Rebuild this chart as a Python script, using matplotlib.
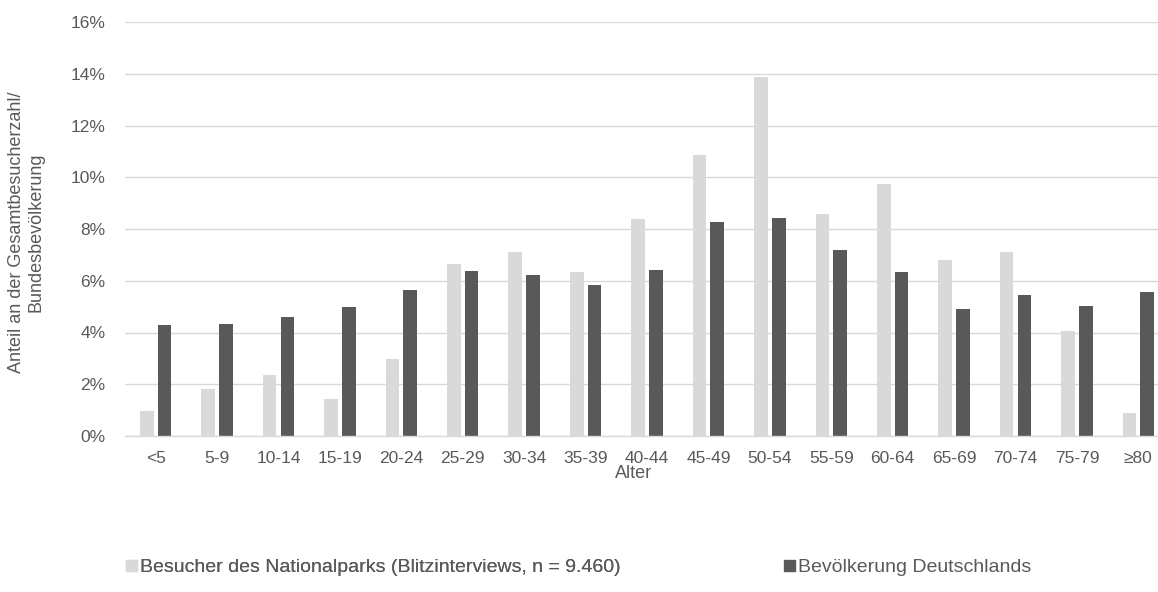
import numpy as np
import matplotlib as mpl
mpl.use('Agg')
from matplotlib import pyplot as plt
from matplotlib.patches import Patch

mpl.rcParams['font.family'] = ['Liberation Sans', 'DejaVu Sans']

age_groups = ['<5', '5-9', '10-14', '15-19', '20-24', '25-29', '30-34', '35-39', '40-44',
              '45-49', '50-54', '55-59', '60-64', '65-69', '70-74', '75-79', '≥80']
visitors = [0.95, 1.80, 2.35, 1.44, 2.99, 6.65, 7.11, 6.33, 8.38,
            10.85, 13.86, 8.58, 9.74, 6.80, 7.12, 4.07, 0.88]
population = [4.30, 4.32, 4.58, 5.00, 5.65, 6.37, 6.23, 5.85, 6.40,
              8.28, 8.44, 7.18, 6.32, 4.91, 5.43, 5.04, 5.57]
visitors_label = 'Besucher des Nationalparks (Blitzinterviews, n = 9.460)'
population_label = 'Bevölkerung Deutschlands'

light = '#D9D9D9'
dark = '#595959'
text_col = '#595959'

W, H = 1158, 592
fig = plt.figure(figsize=(W / 100, H / 100), dpi=100)
top_px, base_px = 22, 436
# plot area runs a little past the right edge, as in the source
ax = fig.add_axes([125 / W, (H - base_px) / H, (1169 - 125) / W, (base_px - top_px) / H])

x = np.arange(len(age_groups))
off, bw = 0.145, 0.222
ax.bar(x - off, visitors, width=bw, color=light, zorder=3)
ax.bar(x + off, population, width=bw, color=dark, zorder=3)

ax.set_xlim(-0.5, len(age_groups) - 0.5)
ax.set_ylim(0, 16)
ax.set_yticks(range(0, 17, 2))
ax.set_yticklabels([f'{v}%' for v in range(0, 17, 2)])
ax.set_xticks(x)
ax.set_xticklabels(age_groups)
ax.tick_params(axis='both', length=0, labelsize=12.5, colors=text_col)
ax.tick_params(axis='y', pad=14)
ax.tick_params(axis='x', pad=11)
ax.grid(axis='y', color=light, linewidth=1.0, zorder=0)
for s in ['top', 'right', 'left']:
    ax.spines[s].set_visible(False)
ax.spines['bottom'].set_color(light)
ax.spines['bottom'].set_linewidth(1.0)
ax.spines['bottom'].set_zorder(4)

fig.text(634 / W, (H - 474) / H, 'Alter', ha='center', va='center', fontsize=13, color=text_col)
fig.text(26 / W, (H - 232) / H, 'Anteil an der Gesamtbesucherzahl/\nBundesbevölkerung',
         rotation=90, ha='center', va='center', multialignment='center', fontsize=13, color=text_col)

leg_kw = dict(frameon=False, loc='center left', borderpad=0, borderaxespad=0,
              handlelength=0.55, handleheight=0.55, handletextpad=0.15, fontsize=14,
              labelcolor=text_col)
leg_y = (H - 568) / H
leg1 = fig.legend(handles=[Patch(color=light)], labels=[visitors_label],
                  bbox_to_anchor=(126 / W, leg_y), **leg_kw)
fig.add_artist(leg1)
fig.legend(handles=[Patch(color=dark)], labels=[population_label],
           bbox_to_anchor=(784 / W, leg_y), **leg_kw)

fig.savefig('out.png', dpi=100)
